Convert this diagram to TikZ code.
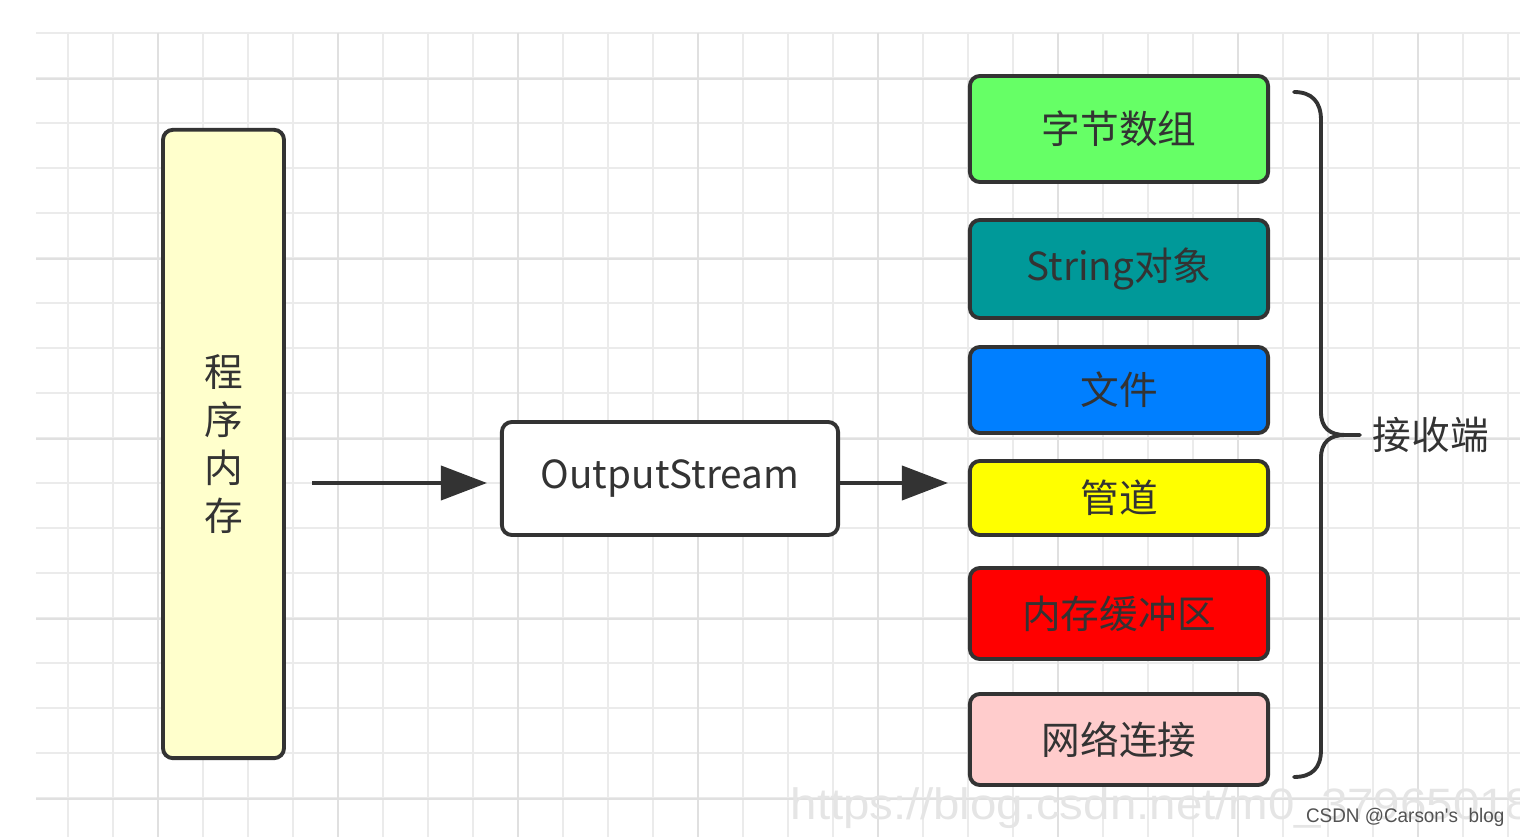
\documentclass[tikz,border=0pt]{standalone}
\usepackage{fontspec}
\setmainfont{Noto Sans CJK SC}
\newfontfamily\markfont{Liberation Sans}
\usepackage{xcolor}
\usetikzlibrary{arrows.meta,calc}

\definecolor{boxline}{HTML}{333333}
\definecolor{memfill}{HTML}{FFFFCC}
\definecolor{bytefill}{HTML}{66FF66}
\definecolor{strfill}{HTML}{009999}
\definecolor{filefill}{HTML}{007FFF}
\definecolor{pipefill}{HTML}{FFFF00}
\definecolor{buffill}{HTML}{FF0000}
\definecolor{netfill}{HTML}{FFCCCC}
\definecolor{gridminor}{HTML}{EBEBEB}
\definecolor{gridmajor}{HTML}{E0E0E0}

\begin{document}
\begin{tikzpicture}[x=0.01cm, y=-0.01cm,
    box/.style={draw=boxline, line width=1.1pt, rounded corners=0.1cm, text=boxline, font=\fontsize{11pt}{13.6pt}\selectfont, align=center},
    sink/.style={box, minimum width=2.98cm},
    arrow/.style={-{Triangle[length=0.46cm, width=0.34cm]}, line width=1.1pt, boxline},
]
\useasboundingbox (0,0) rectangle (1520,837);

% Background grid
\foreach \k in {0,...,32}
    \draw[gridminor, line width=0.6pt] ({68+45*\k},33) -- ({68+45*\k},837);
\foreach \k in {0,...,17}
    \draw[gridminor, line width=0.6pt] (36,{33+45*\k}) -- (1520,{33+45*\k});
\foreach \k in {0,...,7}
    \draw[gridmajor, line width=0.8pt] ({158+180*\k},33) -- ({158+180*\k},837);
\foreach \k in {0,...,4}
    \draw[gridmajor, line width=0.8pt] (36,{79+180*\k}) -- (1520,{79+180*\k});

% Watermarks
\begin{scope}
\clip (0,0) rectangle (1520,837);
\node[anchor=base west, xscale=1.08, inner sep=0pt, text=gray!20, font=\markfont\fontsize{12.5pt}{12.5pt}\selectfont] (wmurl) at (790,820) {https://blog.csdn.net/m0\_37965018};
\node[anchor=base east, xscale=0.96, inner sep=0pt, text=boxline!85, font=\markfont\fontsize{5.6pt}{5.6pt}\selectfont] (wmcsdn) at (1505,823) {CSDN @Carson's\ \ blog};
\end{scope}

% Program memory
\node[box, fill=memfill, minimum width=1.21cm, minimum height=6.28cm] (mem) at (223.5,444) {程\\序\\内\\存};

% Stream
\node[box, fill=white, minimum width=3.36cm, minimum height=1.13cm] (os) at (670,478.5) {OutputStream};

% Receivers
\node[sink, fill=bytefill, minimum height=1.06cm] (bytes) at (1119,129) {字节数组};
\node[sink, fill=strfill, minimum height=0.98cm] (str) at (1119,269) {String对象};
\node[sink, fill=filefill, minimum height=0.86cm] (file) at (1119,390) {文件};
\node[sink, fill=pipefill, minimum height=0.74cm] (pipe) at (1119,498) {管道};
\node[sink, fill=buffill, minimum height=0.91cm] (buf) at (1119,613.5) {内存缓冲区};
\node[sink, fill=netfill, minimum height=0.91cm] (net) at (1119,739.5) {网络连接};

% Arrows
\coordinate (in1) at (312,483);
\draw[arrow, shorten >=0.13cm] (in1) -- (os.west |- in1);
\draw[arrow, shorten >=0.2cm] (os.east |- in1) -- (pipe.west |- in1);

% Brace and label
\coordinate (bt) at (1294,92);
\coordinate (bb) at (1294,777);
\coordinate (btip) at (1360,435);
\draw[boxline, line width=1.1pt, line cap=round]
    (bt) .. controls (1312,92) and (1321,102) .. (1321,120) -- (1321,412)
    .. controls (1321,428) and (1330,435) .. (1345,435) -- (btip);
\draw[boxline, line width=1.1pt, line cap=round]
    (1345,435) .. controls (1330,435) and (1321,442) .. (1321,458) -- (1321,750)
    .. controls (1321,768) and (1312,777) .. (bb);
\node[anchor=west, text=boxline, font=\fontsize{11pt}{13pt}\selectfont, inner sep=0pt] (recv) at (1372,435) {接收端};
\end{tikzpicture}
\end{document}
